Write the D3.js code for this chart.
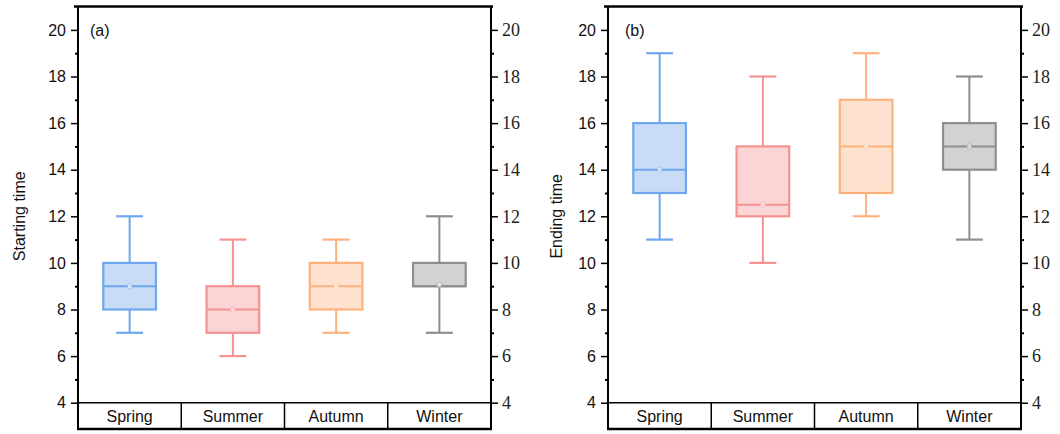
<!DOCTYPE html>
<html><head><meta charset="utf-8">
<script src="https://cdn.jsdelivr.net/npm/d3@7"></script>
<style>body{margin:0;background:#fff}svg{display:block}</style>
</head><body>
<svg id="c" width="1060" height="434"></svg>
<script>
const categories = ["Spring","Summer","Autumn","Winter"];
const yTicks = [4,6,8,10,12,14,16,18,20];
const yMinor = [5,7,9,11,13,15,17,19];
// panel (a) Starting time
const startMin = [7,6,7,7];
const startQ1  = [8,7,8,9];
const startMed = [9,8,9,9];
const startQ3  = [10,9,10,10];
const startMax = [12,11,11,12];
const startMean= [9,8,9,9.05];
// panel (b) Ending time
const endMin = [11,10,12,11];
const endQ1  = [13,12,13,14];
const endMed = [14,12.5,15,15];
const endQ3  = [16,15,17,16];
const endMax = [19,18,19,18];
const endMean= [14,12.5,15,15];

const strokeCol = ["#6ea6ef","#f59292","#fdb27e","#8e8e8e"];
const fillCol   = ["#c9dcf6","#fbd4d6","#fee2cf","#d2d2d2"];

const svg = d3.select("#c");

function panel(ox, label, title, titleX, mins, q1, med, q3, maxs, means){
  const g = svg.append("g").attr("transform",`translate(${ox},0)`);
  const x0 = 78, x1 = 491, yTop = 6.5, yBot = 429;
  const x = d3.scaleBand().domain(categories).range([x0,x1]).padding(0);
  const y = d3.scaleLinear().domain([4,21]).range([402.7, 6.6]);
  const bw = x.bandwidth()*0.51;
  const cw = x.bandwidth()*0.26;

  // boxes
  categories.forEach((c,i)=>{
    const cx = x(c)+x.bandwidth()/2;
    const bg = g.append("g");
    bg.append("line").attr("x1",cx).attr("x2",cx).attr("y1",y(maxs[i])).attr("y2",y(q3[i]))
      .attr("stroke",strokeCol[i]).attr("stroke-width",2);
    bg.append("line").attr("x1",cx).attr("x2",cx).attr("y1",y(q1[i])).attr("y2",y(mins[i]))
      .attr("stroke",strokeCol[i]).attr("stroke-width",2);
    [maxs[i],mins[i]].forEach(v=>{
      bg.append("line").attr("x1",cx-cw/2).attr("x2",cx+cw/2).attr("y1",y(v)).attr("y2",y(v))
        .attr("stroke",strokeCol[i]).attr("stroke-width",2.2);
    });
    bg.append("rect").attr("x",cx-bw/2).attr("width",bw).attr("y",y(q3[i])).attr("height",y(q1[i])-y(q3[i]))
      .attr("fill",fillCol[i]).attr("stroke",strokeCol[i]).attr("stroke-width",2.2);
    bg.append("line").attr("x1",cx-bw/2).attr("x2",cx+bw/2).attr("y1",y(med[i])).attr("y2",y(med[i]))
      .attr("stroke",strokeCol[i]).attr("stroke-width",2);
    bg.append("circle").attr("cx",cx).attr("cy",y(means[i])).attr("r",2.6)
      .attr("fill","#fff").attr("fill-opacity",0.6).attr("stroke",strokeCol[i]).attr("stroke-opacity",0.5).attr("stroke-width",1);
  });

  // left axis
  const la = g.append("g").attr("transform",`translate(${x0},0)`)
    .call(d3.axisLeft(y).tickValues(yTicks).tickSize(7).tickPadding(5).tickFormat(d3.format("d")));
  la.select(".domain").remove();
  la.selectAll("line").attr("stroke","#000").attr("stroke-width",1.5);
  la.selectAll("text").attr("font-family","Liberation Sans, Arial, sans-serif").attr("font-size",16).attr("fill","#111");
  const lm = g.append("g").attr("transform",`translate(${x0},0)`)
    .call(d3.axisLeft(y).tickValues(yMinor).tickSize(3).tickFormat(""));
  lm.select(".domain").remove();
  lm.selectAll("line").attr("stroke","#000").attr("stroke-width",2);

  // right axis
  const ra = g.append("g").attr("transform",`translate(${x1},0)`)
    .call(d3.axisRight(y).tickValues(yTicks).tickSize(7).tickPadding(4).tickFormat(d3.format("d")));
  ra.select(".domain").remove();
  ra.selectAll("line").attr("stroke","#000").attr("stroke-width",1.5);
  ra.selectAll("text").attr("font-family","Liberation Serif, Times New Roman, serif").attr("font-size",18).attr("fill","#222");
  const rm = g.append("g").attr("transform",`translate(${x1},0)`)
    .call(d3.axisRight(y).tickValues(yMinor).tickSize(3).tickFormat(""));
  rm.select(".domain").remove();
  rm.selectAll("line").attr("stroke","#000").attr("stroke-width",2);

  // frame
  g.append("line").attr("x1",x0-4).attr("x2",x1+2).attr("y1",yTop).attr("y2",yTop).attr("stroke","#000").attr("stroke-width",2.5);
  g.append("line").attr("x1",x0).attr("x2",x0).attr("y1",yTop).attr("y2",yBot).attr("stroke","#000").attr("stroke-width",2);
  g.append("line").attr("x1",x1).attr("x2",x1).attr("y1",yTop).attr("y2",yBot).attr("stroke","#000").attr("stroke-width",2);
  g.append("line").attr("x1",x0).attr("x2",x1).attr("y1",y(4)).attr("y2",y(4)).attr("stroke","#000").attr("stroke-width",1.5);
  g.append("line").attr("x1",x0-1).attr("x2",x1+1).attr("y1",yBot).attr("y2",yBot).attr("stroke","#000").attr("stroke-width",2.5);
  categories.slice(1).forEach(c=>{
    g.append("line").attr("x1",x(c)).attr("x2",x(c)).attr("y1",y(4)).attr("y2",yBot).attr("stroke","#000").attr("stroke-width",1.5);
  });
  categories.forEach(c=>{
    g.append("text").attr("x",x(c)+x.bandwidth()/2).attr("y",(y(4)+yBot)/2).attr("dy","0.36em")
      .attr("text-anchor","middle").attr("font-family","Liberation Sans, Arial, sans-serif").attr("font-size",16).attr("fill","#111").text(c);
  });

  g.append("text").attr("x",label==="(a)"?90:95).attr("y",30).attr("dy","0.36em")
    .attr("font-family","Liberation Sans, Arial, sans-serif").attr("font-size",16).attr("fill","#111").text(label);
  g.append("text").attr("transform",`translate(${titleX},${(y(4)+y(20))/2}) rotate(-90)`).attr("dy","0.36em")
    .attr("text-anchor","middle").attr("font-family","Liberation Sans, Arial, sans-serif").attr("font-size",16).attr("fill","#111").text(title);
}

panel(0,"(a)","Starting time",19, startMin,startQ1,startMed,startQ3,startMax,startMean);
panel(530,"(b)","Ending time",26, endMin,endQ1,endMed,endQ3,endMax,endMean);
</script>
</body></html>
